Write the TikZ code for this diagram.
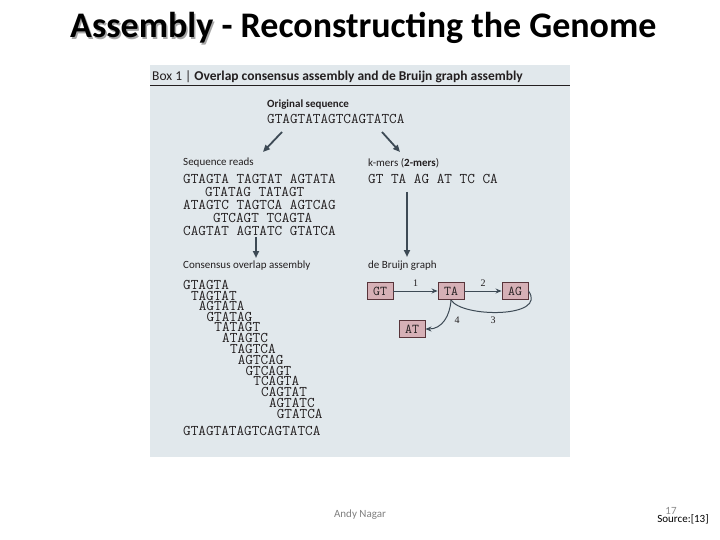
\documentclass[tikz,border=0pt]{standalone}
\usepackage{fontspec}
\setmainfont{Carlito}
\newfontfamily\numfont{Liberation Serif}
\usepackage{xcolor}
\usetikzlibrary{positioning,arrows.meta}
\definecolor{panelbg}{RGB}{225,232,236}
\definecolor{arrcol}{RGB}{61,74,85}
\definecolor{kfill}{RGB}{214,176,182}
\definecolor{kedge}{RGB}{88,52,58}
\definecolor{inkcol}{RGB}{35,31,32}

\begin{document}
\begin{tikzpicture}[x=1pt,y=-1pt,
  lbl/.style={anchor=west,inner sep=0pt,text=inkcol,font=\fontsize{11}{12}\selectfont},
  seq/.style={anchor=west,inner sep=0pt,text=inkcol,font=\fontsize{14.8}{15}\ttfamily},
  kbox/.style={draw=kedge,fill=kfill,line width=0.9pt,inner sep=0pt,minimum width=26pt,minimum height=17pt,text=inkcol,font=\fontsize{13.5}{14}\ttfamily},
  arr/.style={-{Triangle[length=7pt,width=6pt]},line width=1.8pt,draw=arrcol},
  garr/.style={-{Stealth[length=6pt,width=5pt]},line width=1pt,draw=arrcol},
  num/.style={inner sep=0pt,text=inkcol,font=\fontsize{10}{12}\numfont},
  foot/.style={inner sep=0pt,font=\fontsize{11}{13}\selectfont}]
\useasboundingbox[fill=white] (0,0) rectangle (720,540);
% title
\node[anchor=west,inner sep=0pt,text=black!35] (tshadow) at (71.5,29.5) {\fontsize{36}{40}\selectfont\bfseries Assembly};
\node[anchor=west,inner sep=0pt] (title) at (70,28) {\fontsize{36}{40}\selectfont\bfseries Assembly - Reconstructing the Genome};
% box
\fill[panelbg] (150,65) rectangle (570,457);
\node[anchor=west,inner sep=0pt,text=inkcol,font=\fontsize{13.5}{15}\selectfont] (head) at (152,77) {Box 1 | \textbf{Overlap consensus assembly and de Bruijn graph assembly}};
\draw[line width=1pt,inkcol] (150,86) -- (570,86);
% original sequence
\node[lbl] (origlbl) at (267,105) {\bfseries Original sequence};
\node[seq] (orig) at (267,119) {GTAGTATAGTCAGTATCA};
\coordinate (o1) at (282,132); \coordinate (o1e) at (263,152);
\coordinate (o2) at (382,132); \coordinate (o2e) at (400,152);
\draw[arr] (o1)--(o1e); \draw[arr] (o2)--(o2e);
% reads
\node[lbl] (readlbl) at (183,163) {Sequence reads};
\node[seq] (r1) at (183,179) {GTAGTA TAGTAT AGTATA};
\node[seq] (r2) at (205,192) {GTATAG TATAGT};
\node[seq] (r3) at (183,205) {ATAGTC TAGTCA AGTCAG};
\node[seq] (r4) at (213,218) {GTCAGT TCAGTA};
\node[seq] (r5) at (183,231) {CAGTAT AGTATC GTATCA};
% k-mers
\node[lbl] (kmerlbl) at (368,163) {k-mers (\textbf{2-mers})};
\node[seq] (kmers) at (368,179) {GT TA AG AT TC CA};
\coordinate (d1) at (256,237); \coordinate (d1e) at (256,258);
\coordinate (d2) at (407,192); \coordinate (d2e) at (407,257);
\draw[arr] (d1)--(d1e); \draw[arr] (d2)--(d2e);
% consensus overlap
\node[lbl] (conslbl) at (183,266) {Consensus overlap assembly};
\node[seq] (c1) at (183.0,285) {GTAGTA};
\node[seq] (c2) at (190.8,296) {TAGTAT};
\node[seq] (c3) at (198.6,306) {AGTATA};
\node[seq] (c4) at (206.4,317) {GTATAG};
\node[seq] (c5) at (214.2,327) {TATAGT};
\node[seq] (c6) at (222.0,338) {ATAGTC};
\node[seq] (c7) at (229.8,349) {TAGTCA};
\node[seq] (c8) at (237.6,360) {AGTCAG};
\node[seq] (c9) at (245.4,371) {GTCAGT};
\node[seq] (c10) at (253.2,381) {TCAGTA};
\node[seq] (c11) at (261.0,392) {CAGTAT};
\node[seq] (c12) at (268.8,403) {AGTATC};
\node[seq] (c13) at (276.6,414) {GTATCA};
\node[seq] (cons) at (183,431) {GTAGTATAGTCAGTATCA};
% de Bruijn graph
\node[lbl] (dbglbl) at (368,266) {de Bruijn graph};
\node[kbox] (gt) at (380,291) {GT};
\node[kbox] (ta) at (451,291) {TA};
\node[kbox] (ag) at (515,291) {AG};
\node[kbox] (at) at (412,329) {AT};
\draw[garr] (gt)--(ta) node[num,midway,above=4pt] {1};
\draw[garr] (ta)--(ag) node[num,midway,above=4pt] {2};
\draw[line width=1pt,arrcol] (ta.south) .. controls (462,318) and (548,318) .. (ag.east);
\draw[garr] (ta.south) .. controls (450,316) and (442,329) .. (at.east);
\node[num] (n3) at (493,320) {3};
\node[num] (n4) at (457,320) {4};
% footer
\node[foot,text=black!50] (author) at (360,515) {Andy Nagar};
\node[foot,text=black!45] (pageno) at (671,511) {17};
\node[foot] (source) at (683,519) {Source:[13]};
\end{tikzpicture}
\end{document}
